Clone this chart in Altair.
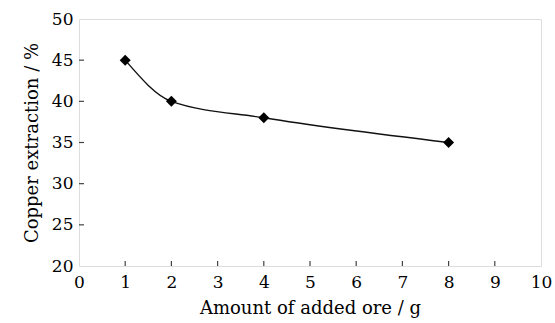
import altair as alt
import pandas as pd

ore = [1, 2, 4, 8]
extraction = [45, 40, 38, 35]
x_ticks = [1, 2, 3, 4, 5, 6, 7, 8, 9]
y_ticks = [25, 30, 35, 40, 45]

W, H = 462, 247
FONT = "DejaVu Serif"

df = pd.DataFrame({"ore": ore, "ext": extraction})
xt = pd.DataFrame({"t": x_ticks})
yt = pd.DataFrame({"t": y_ticks})

xs = alt.Scale(domain=[0, 10], nice=False)
ys = alt.Scale(domain=[20, 50], nice=False)

xaxis = alt.Axis(values=list(range(0, 11)), tickSize=0, labelPadding=8, grid=False,
                 domain=False, labelFontSize=17, titleFontSize=18, labelFont=FONT,
                 titleFont=FONT, titleFontWeight="normal", labelColor="#000",
                 titleColor="#000", titlePadding=9, labelFlush=False)
yaxis = alt.Axis(values=list(range(20, 51, 5)), tickSize=0, labelPadding=6, grid=False,
                 domain=False, labelFontSize=17, titleFontSize=18, labelFont=FONT,
                 titleFont=FONT, titleFontWeight="normal", labelColor="#000",
                 titleColor="#000", titlePadding=10, labelFlush=False)

line = alt.Chart(df).mark_line(interpolate="monotone", color="#111", strokeWidth=1.4).encode(
    x=alt.X("ore:Q", scale=xs, axis=xaxis, title="Amount of added ore / g"),
    y=alt.Y("ext:Q", scale=ys, axis=yaxis, title="Copper extraction / %"),
)
pts = alt.Chart(df).mark_point(shape="diamond", filled=True, color="#000", size=120, opacity=1).encode(
    x=alt.X("ore:Q", scale=xs), y=alt.Y("ext:Q", scale=ys)
)
xtick = alt.Chart(xt).mark_rule(color="#444", strokeWidth=1.2).encode(
    x=alt.X("t:Q", scale=xs), y=alt.value(H), y2=alt.value(H - 5)
)
ytick = alt.Chart(yt).mark_rule(color="#444", strokeWidth=1.2).encode(
    y=alt.Y("t:Q", scale=ys), x=alt.value(0), x2=alt.value(5)
)

chart = alt.layer(line, xtick, ytick, pts).properties(
    width=W, height=H,
    autosize=alt.AutoSizeParams(type="none"),
    padding={"left": 79, "top": 19, "right": 14, "bottom": 57},
).configure_view(stroke="#444", strokeWidth=1.6).configure(background="white")

chart.save("out.html", embed_options={"renderer": "svg", "actions": False})
